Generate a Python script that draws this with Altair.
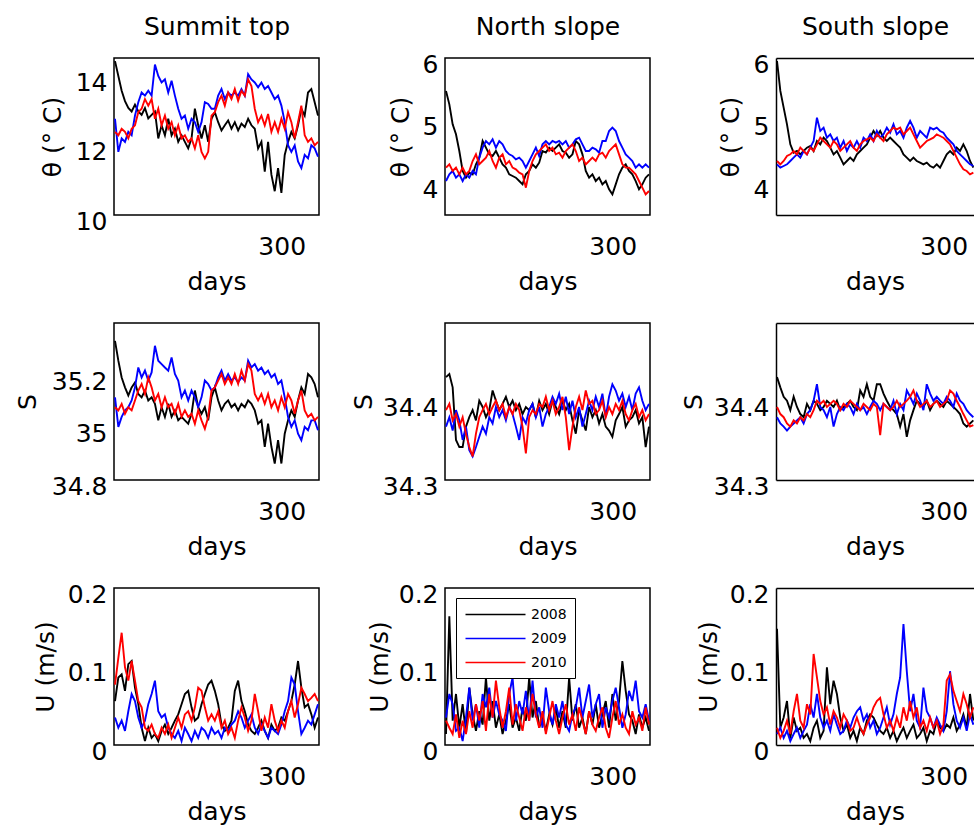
import altair as alt
import numpy as np
import pandas as pd

FONT = "DejaVu Sans"
YEARS = ["2008", "2009", "2010"]
COLORS = ["#000000", "#0000ff", "#ff0000"]
SITES = ["Summit top", "North slope", "South slope"]
X_TICKS = [300]

# ---------------- Summit top ----------------
ST_T_2008 = [14.46, 14.03, 13.6, 13.3, 13.1, 13.0, 13.2, 13.0, 12.9, 13.1, 12.8, 12.9, 13.0, 12.22, 12.60, 12.31, 12.79, 12.31, 12.50, 12.12, 12.31, 12.12, 11.93, 12.22, 13.08, 12.60, 12.22, 12.60, 12.12, 12.79, 12.98, 12.69, 12.45, 12.60, 12.74, 12.50, 12.69, 12.45, 12.65, 12.55, 12.79, 12.60, 12.50, 11.93, 12.12, 11.26, 12.12, 11.17, 10.69, 11.36, 10.64, 11.74, 12.12, 12.41, 12.22, 12.60, 13.08, 12.88, 13.55, 13.65, 13.27, 12.88]
ST_T_2009 = [12.79, 11.83, 12.22, 12.12, 12.41, 12.31, 12.88, 13.27, 13.55, 13.46, 13.60, 13.46, 14.36, 14.03, 13.84, 13.93, 13.55, 13.89, 13.46, 13.08, 12.79, 12.88, 12.50, 12.79, 12.69, 12.41, 12.69, 13.27, 13.22, 13.08, 13.08, 13.46, 13.65, 13.36, 13.55, 13.46, 13.55, 13.46, 13.65, 13.46, 14.08, 13.93, 13.84, 13.70, 13.84, 13.65, 13.74, 13.55, 13.36, 13.46, 13.17, 12.69, 12.02, 11.83, 12.02, 11.55, 11.36, 11.74, 11.64, 12.02, 11.93, 11.69]
ST_T_2010 = [12.41, 12.31, 12.50, 12.41, 12.22, 12.50, 12.60, 12.98, 13.08, 13.36, 13.17, 13.36, 12.79, 13.08, 12.60, 12.88, 12.50, 12.69, 12.31, 12.60, 12.22, 12.31, 12.12, 12.22, 11.93, 12.31, 11.83, 11.64, 11.83, 12.88, 12.98, 13.27, 13.46, 13.17, 13.55, 13.36, 13.65, 13.31, 13.60, 13.46, 13.93, 13.74, 13.08, 12.69, 12.88, 12.60, 12.93, 12.41, 12.69, 12.41, 12.79, 12.50, 12.98, 12.69, 12.22, 12.69, 13.17, 12.31, 12.12, 12.22, 12.02, 12.12]

ST_S_2008 = [35.332, 35.256, 35.192, 35.154, 35.123, 35.154, 35.173, 35.129, 35.116, 35.142, 35.104, 35.116, 35.091, 35.028, 35.078, 35.041, 35.091, 35.041, 35.066, 35.028, 35.041, 35.028, 35.015, 35.053, 35.142, 35.078, 35.053, 35.078, 35.028, 35.116, 35.154, 35.104, 35.066, 35.091, 35.104, 35.078, 35.091, 35.066, 35.091, 35.078, 35.104, 35.091, 35.066, 35.015, 35.028, 34.927, 35.015, 34.927, 34.863, 34.952, 34.863, 34.977, 35.028, 35.066, 35.041, 35.104, 35.154, 35.129, 35.205, 35.192, 35.167, 35.116]
ST_S_2009 = [35.116, 35.003, 35.041, 35.066, 35.078, 35.104, 35.154, 35.230, 35.192, 35.218, 35.180, 35.211, 35.313, 35.256, 35.243, 35.230, 35.218, 35.268, 35.205, 35.180, 35.116, 35.142, 35.104, 35.142, 35.116, 35.078, 35.116, 35.180, 35.167, 35.142, 35.154, 35.192, 35.218, 35.180, 35.205, 35.180, 35.192, 35.173, 35.192, 35.180, 35.256, 35.230, 35.243, 35.218, 35.230, 35.205, 35.218, 35.192, 35.205, 35.167, 35.180, 35.116, 35.041, 35.003, 35.028, 34.977, 34.952, 35.003, 34.990, 35.028, 35.028, 34.990]
ST_S_2010 = [35.078, 35.066, 35.091, 35.053, 35.078, 35.066, 35.104, 35.142, 35.167, 35.129, 35.192, 35.154, 35.104, 35.129, 35.078, 35.116, 35.078, 35.091, 35.053, 35.091, 35.041, 35.066, 35.041, 35.053, 35.015, 35.066, 35.028, 34.996, 35.041, 35.142, 35.154, 35.180, 35.205, 35.167, 35.192, 35.167, 35.205, 35.167, 35.218, 35.180, 35.243, 35.218, 35.129, 35.104, 35.129, 35.091, 35.129, 35.078, 35.104, 35.066, 35.116, 35.078, 35.129, 35.104, 35.053, 35.104, 35.142, 35.066, 35.041, 35.053, 35.028, 35.041]

ST_U_2008 = [0.056, 0.086, 0.090, 0.069, 0.103, 0.107, 0.073, 0.052, 0.022, 0.005, 0.022, 0.009, 0.014, 0.005, 0.018, 0.026, 0.014, 0.022, 0.031, 0.039, 0.052, 0.065, 0.069, 0.048, 0.031, 0.035, 0.052, 0.065, 0.077, 0.082, 0.069, 0.052, 0.026, 0.018, 0.022, 0.031, 0.069, 0.082, 0.056, 0.043, 0.026, 0.018, 0.014, 0.022, 0.031, 0.018, 0.009, 0.026, 0.018, 0.022, 0.035, 0.031, 0.043, 0.056, 0.077, 0.107, 0.073, 0.048, 0.052, 0.039, 0.022, 0.035]
ST_U_2009 = [0.035, 0.022, 0.031, 0.018, 0.043, 0.065, 0.056, 0.035, 0.022, 0.031, 0.052, 0.065, 0.082, 0.043, 0.035, 0.039, 0.022, 0.014, 0.009, 0.018, 0.005, 0.022, 0.014, 0.005, 0.018, 0.009, 0.022, 0.018, 0.009, 0.022, 0.014, 0.018, 0.009, 0.022, 0.018, 0.026, 0.031, 0.043, 0.035, 0.022, 0.031, 0.039, 0.022, 0.014, 0.026, 0.018, 0.009, 0.022, 0.018, 0.014, 0.026, 0.043, 0.056, 0.086, 0.077, 0.043, 0.014, 0.022, 0.031, 0.026, 0.039, 0.052]
ST_U_2010 = [0.077, 0.111, 0.143, 0.099, 0.082, 0.107, 0.082, 0.056, 0.048, 0.022, 0.018, 0.026, 0.014, 0.009, 0.022, 0.014, 0.026, 0.009, 0.022, 0.035, 0.022, 0.039, 0.043, 0.031, 0.048, 0.073, 0.069, 0.048, 0.031, 0.039, 0.031, 0.043, 0.022, 0.031, 0.014, 0.022, 0.009, 0.031, 0.048, 0.035, 0.018, 0.031, 0.065, 0.043, 0.018, 0.035, 0.022, 0.052, 0.031, 0.018, 0.031, 0.022, 0.043, 0.056, 0.035, 0.052, 0.073, 0.065, 0.056, 0.060, 0.065, 0.056]

# ---------------- North slope ----------------
NS_T_2008 = [5.475, 5.262, 4.944, 4.785, 4.519, 4.201, 4.094, 4.174, 4.148, 4.307, 4.413, 4.678, 4.572, 4.466, 4.440, 4.519, 4.413, 4.307, 4.254, 4.148, 4.121, 4.094, 4.041, 3.988, 4.148, 4.201, 4.307, 4.254, 4.333, 4.519, 4.493, 4.572, 4.519, 4.572, 4.625, 4.519, 4.493, 4.413, 4.466, 4.678, 4.625, 4.466, 4.201, 4.094, 4.148, 4.041, 4.094, 3.988, 4.041, 3.909, 3.829, 3.988, 4.148, 4.254, 4.307, 4.201, 4.148, 4.041, 3.909, 3.988, 4.094, 4.148]
NS_T_2009 = [4.041, 4.148, 4.201, 4.094, 4.148, 4.041, 4.148, 4.094, 4.201, 4.148, 4.413, 4.572, 4.678, 4.625, 4.705, 4.572, 4.678, 4.625, 4.519, 4.466, 4.440, 4.386, 4.413, 4.360, 4.254, 4.360, 4.466, 4.572, 4.440, 4.625, 4.678, 4.625, 4.678, 4.652, 4.678, 4.625, 4.678, 4.572, 4.625, 4.705, 4.731, 4.625, 4.519, 4.519, 4.572, 4.546, 4.493, 4.678, 4.678, 4.838, 4.891, 4.838, 4.678, 4.572, 4.466, 4.413, 4.360, 4.254, 4.307, 4.254, 4.307, 4.254]
NS_T_2010 = [4.254, 4.307, 4.201, 4.254, 4.148, 4.254, 4.148, 4.201, 4.360, 4.466, 4.307, 4.360, 4.413, 4.519, 4.360, 4.254, 4.413, 4.466, 4.307, 4.360, 4.254, 4.227, 4.174, 4.148, 3.935, 4.201, 4.360, 4.466, 4.519, 4.572, 4.625, 4.519, 4.572, 4.466, 4.493, 4.413, 4.519, 4.572, 4.625, 4.519, 4.360, 4.413, 4.307, 4.360, 4.413, 4.360, 4.466, 4.493, 4.413, 4.519, 4.572, 4.625, 4.466, 4.307, 4.254, 4.254, 4.201, 4.148, 4.041, 3.935, 3.829, 3.882]

NS_S_2008 = [34.431, 34.435, 34.418, 34.351, 34.342, 34.342, 34.368, 34.380, 34.389, 34.376, 34.401, 34.393, 34.380, 34.389, 34.414, 34.401, 34.389, 34.397, 34.406, 34.393, 34.401, 34.389, 34.397, 34.384, 34.393, 34.389, 34.397, 34.380, 34.401, 34.389, 34.397, 34.384, 34.401, 34.393, 34.384, 34.401, 34.389, 34.397, 34.376, 34.359, 34.389, 34.376, 34.363, 34.393, 34.380, 34.389, 34.372, 34.384, 34.368, 34.363, 34.355, 34.376, 34.384, 34.393, 34.368, 34.376, 34.380, 34.389, 34.372, 34.380, 34.342, 34.368]
NS_S_2009 = [34.368, 34.380, 34.363, 34.389, 34.376, 34.351, 34.368, 34.338, 34.330, 34.342, 34.355, 34.368, 34.359, 34.380, 34.372, 34.393, 34.380, 34.389, 34.376, 34.393, 34.384, 34.368, 34.351, 34.380, 34.372, 34.389, 34.397, 34.380, 34.393, 34.368, 34.384, 34.393, 34.406, 34.397, 34.410, 34.389, 34.406, 34.384, 34.401, 34.380, 34.393, 34.368, 34.384, 34.401, 34.389, 34.406, 34.393, 34.410, 34.380, 34.406, 34.422, 34.414, 34.401, 34.410, 34.393, 34.406, 34.389, 34.410, 34.418, 34.401, 34.389, 34.397]
NS_S_2010 = [34.389, 34.397, 34.376, 34.384, 34.368, 34.380, 34.359, 34.342, 34.330, 34.359, 34.380, 34.389, 34.397, 34.384, 34.393, 34.401, 34.389, 34.397, 34.380, 34.393, 34.384, 34.397, 34.389, 34.368, 34.334, 34.380, 34.389, 34.384, 34.397, 34.393, 34.406, 34.389, 34.401, 34.384, 34.393, 34.406, 34.380, 34.338, 34.368, 34.393, 34.406, 34.389, 34.414, 34.397, 34.401, 34.384, 34.389, 34.401, 34.380, 34.393, 34.384, 34.397, 34.389, 34.401, 34.384, 34.376, 34.389, 34.397, 34.380, 34.389, 34.376, 34.384]

NS_U_2008 = [0.014, 0.164, 0.031, 0.065, 0.022, 0.052, 0.014, 0.073, 0.039, 0.018, 0.043, 0.026, 0.086, 0.031, 0.056, 0.022, 0.039, 0.014, 0.031, 0.052, 0.022, 0.035, 0.018, 0.048, 0.031, 0.086, 0.035, 0.056, 0.022, 0.035, 0.018, 0.039, 0.026, 0.048, 0.022, 0.043, 0.022, 0.086, 0.031, 0.052, 0.022, 0.035, 0.014, 0.043, 0.026, 0.052, 0.022, 0.039, 0.056, 0.022, 0.065, 0.031, 0.056, 0.107, 0.069, 0.039, 0.031, 0.014, 0.039, 0.022, 0.035, 0.018]
NS_U_2009 = [0.035, 0.065, 0.052, 0.018, 0.022, 0.005, 0.035, 0.073, 0.031, 0.052, 0.022, 0.065, 0.048, 0.073, 0.035, 0.056, 0.039, 0.031, 0.018, 0.065, 0.086, 0.031, 0.056, 0.039, 0.069, 0.031, 0.082, 0.035, 0.048, 0.022, 0.073, 0.043, 0.026, 0.052, 0.035, 0.056, 0.026, 0.018, 0.039, 0.048, 0.073, 0.035, 0.056, 0.077, 0.035, 0.052, 0.065, 0.022, 0.048, 0.035, 0.056, 0.073, 0.048, 0.022, 0.039, 0.069, 0.056, 0.082, 0.043, 0.035, 0.052, 0.031]
NS_U_2010 = [0.031, 0.022, 0.014, 0.039, 0.009, 0.031, 0.014, 0.043, 0.022, 0.052, 0.031, 0.056, 0.018, 0.065, 0.035, 0.082, 0.048, 0.022, 0.043, 0.073, 0.026, 0.052, 0.035, 0.018, 0.048, 0.031, 0.065, 0.039, 0.022, 0.043, 0.014, 0.035, 0.056, 0.031, 0.014, 0.035, 0.052, 0.026, 0.039, 0.018, 0.048, 0.031, 0.014, 0.043, 0.026, 0.018, 0.035, 0.048, 0.022, 0.009, 0.035, 0.056, 0.026, 0.039, 0.022, 0.014, 0.043, 0.026, 0.035, 0.018, 0.048, 0.026]

# ---------------- South slope ----------------
SS_T_2008 = [5.952, 5.475, 5.209, 4.944, 4.625, 4.493, 4.519, 4.466, 4.519, 4.572, 4.599, 4.519, 4.678, 4.625, 4.731, 4.678, 4.572, 4.466, 4.519, 4.413, 4.307, 4.360, 4.413, 4.360, 4.466, 4.519, 4.572, 4.625, 4.731, 4.838, 4.758, 4.838, 4.731, 4.678, 4.731, 4.678, 4.625, 4.572, 4.466, 4.413, 4.360, 4.413, 4.360, 4.333, 4.307, 4.333, 4.280, 4.254, 4.307, 4.254, 4.360, 4.466, 4.519, 4.466, 4.572, 4.519, 4.625, 4.519, 4.360, 4.254]
SS_T_2009 = [4.307, 4.254, 4.280, 4.307, 4.360, 4.413, 4.466, 4.413, 4.519, 4.466, 4.572, 4.678, 5.050, 4.838, 4.891, 4.731, 4.785, 4.678, 4.731, 4.572, 4.678, 4.519, 4.625, 4.572, 4.678, 4.572, 4.731, 4.678, 4.785, 4.678, 4.838, 4.731, 4.785, 4.891, 4.811, 4.944, 4.785, 4.838, 4.731, 4.891, 4.997, 4.891, 4.731, 4.838, 4.785, 4.731, 4.891, 4.864, 4.891, 4.838, 4.811, 4.731, 4.678, 4.625, 4.519, 4.466, 4.413, 4.360, 4.307, 4.280]
SS_T_2010 = [4.360, 4.307, 4.360, 4.440, 4.466, 4.519, 4.466, 4.572, 4.519, 4.466, 4.572, 4.519, 4.625, 4.731, 4.678, 4.625, 4.572, 4.678, 4.625, 4.519, 4.572, 4.625, 4.678, 4.572, 4.519, 4.625, 4.678, 4.705, 4.731, 4.678, 4.785, 4.731, 4.678, 4.785, 4.838, 4.891, 4.864, 4.891, 4.785, 4.838, 4.891, 4.785, 4.678, 4.572, 4.625, 4.678, 4.705, 4.731, 4.785, 4.758, 4.731, 4.678, 4.625, 4.519, 4.413, 4.307, 4.227, 4.201, 4.148, 4.174]

SS_S_2008 = [34.431, 34.418, 34.406, 34.401, 34.389, 34.406, 34.393, 34.384, 34.380, 34.397, 34.389, 34.401, 34.397, 34.389, 34.393, 34.401, 34.397, 34.393, 34.401, 34.389, 34.393, 34.397, 34.401, 34.393, 34.389, 34.414, 34.406, 34.422, 34.406, 34.401, 34.422, 34.422, 34.410, 34.401, 34.393, 34.389, 34.384, 34.368, 34.384, 34.355, 34.376, 34.389, 34.401, 34.397, 34.393, 34.401, 34.389, 34.397, 34.401, 34.397, 34.393, 34.401, 34.397, 34.393, 34.389, 34.384, 34.372, 34.368, 34.372, 34.376]
SS_S_2009 = [34.380, 34.372, 34.368, 34.363, 34.368, 34.372, 34.376, 34.380, 34.372, 34.384, 34.389, 34.401, 34.422, 34.393, 34.389, 34.380, 34.393, 34.368, 34.384, 34.393, 34.389, 34.397, 34.393, 34.384, 34.397, 34.389, 34.393, 34.384, 34.393, 34.401, 34.397, 34.389, 34.397, 34.393, 34.389, 34.401, 34.384, 34.397, 34.389, 34.414, 34.406, 34.397, 34.410, 34.401, 34.389, 34.422, 34.410, 34.401, 34.406, 34.401, 34.397, 34.406, 34.401, 34.393, 34.410, 34.401, 34.397, 34.389, 34.384, 34.380]
SS_S_2010 = [34.393, 34.384, 34.380, 34.372, 34.368, 34.376, 34.372, 34.380, 34.376, 34.384, 34.380, 34.389, 34.401, 34.397, 34.401, 34.393, 34.397, 34.401, 34.397, 34.389, 34.397, 34.393, 34.401, 34.397, 34.393, 34.389, 34.397, 34.393, 34.389, 34.397, 34.393, 34.357, 34.397, 34.393, 34.389, 34.393, 34.401, 34.393, 34.397, 34.401, 34.406, 34.414, 34.401, 34.393, 34.397, 34.401, 34.393, 34.397, 34.401, 34.393, 34.397, 34.401, 34.414, 34.410, 34.401, 34.393, 34.384, 34.376, 34.368, 34.370]

SS_U_2008 = [0.148, 0.022, 0.035, 0.056, 0.009, 0.035, 0.018, 0.022, 0.009, 0.014, 0.005, 0.022, 0.031, 0.009, 0.018, 0.099, 0.052, 0.082, 0.065, 0.035, 0.018, 0.026, 0.009, 0.018, 0.005, 0.022, 0.014, 0.031, 0.039, 0.035, 0.026, 0.018, 0.014, 0.022, 0.009, 0.018, 0.005, 0.014, 0.022, 0.009, 0.018, 0.026, 0.009, 0.014, 0.022, 0.005, 0.018, 0.014, 0.031, 0.022, 0.018, 0.026, 0.022, 0.035, 0.018, 0.026, 0.039, 0.022, 0.065, 0.031]
SS_U_2009 = [0.014, 0.022, 0.009, 0.018, 0.005, 0.014, 0.022, 0.009, 0.018, 0.026, 0.052, 0.035, 0.065, 0.035, 0.022, 0.031, 0.018, 0.039, 0.026, 0.014, 0.018, 0.031, 0.022, 0.035, 0.043, 0.048, 0.031, 0.039, 0.022, 0.031, 0.014, 0.022, 0.035, 0.048, 0.026, 0.039, 0.065, 0.086, 0.154, 0.094, 0.043, 0.065, 0.031, 0.022, 0.073, 0.043, 0.035, 0.022, 0.035, 0.026, 0.018, 0.043, 0.094, 0.052, 0.031, 0.022, 0.035, 0.018, 0.039, 0.026]
SS_U_2010 = [0.022, 0.009, 0.018, 0.031, 0.014, 0.043, 0.065, 0.031, 0.022, 0.052, 0.039, 0.116, 0.086, 0.056, 0.039, 0.048, 0.026, 0.043, 0.035, 0.022, 0.039, 0.031, 0.018, 0.022, 0.035, 0.022, 0.014, 0.026, 0.035, 0.048, 0.056, 0.060, 0.039, 0.022, 0.031, 0.018, 0.035, 0.022, 0.048, 0.031, 0.056, 0.035, 0.048, 0.022, 0.031, 0.018, 0.035, 0.022, 0.031, 0.014, 0.026, 0.082, 0.090, 0.069, 0.056, 0.043, 0.065, 0.052, 0.035, 0.048]

DAY_SPAN = [(210.54, 319.46), (210.54, 319.46), (210.54, 315.9)]
X_DOMAINS = [[210, 320], [210, 320], [210, 316.25]]
WIDTHS = [205, 205, 198]
HEIGHT = 157

Y_DOMAINS = {
    "T": [[10, 14.55], [3.5, 6], [3.5, 6]],
    "S": [[34.8, 35.4], [34.3, 34.5], [34.3, 34.5]],
    "U": [[0, 0.2], [0, 0.2], [0, 0.2]],
}
Y_TICKS = {
    "T": [[10, 12, 14], [4, 5, 6], [4, 5, 6]],
    "S": [[34.8, 35, 35.2], [34.3, 34.4], [34.3, 34.4]],
    "U": [[0, 0.1, 0.2], [0, 0.1, 0.2], [0, 0.1, 0.2]],
}
Y_TITLES = {"T": "θ (° C)", "S": "S", "U": "U (m/s)"}
Y_TITLE_X = {"T": [-62, -45, -46], "S": [-87, -82, -83], "U": [-69, -66, -68]}

DATA = {
    "T": [[ST_T_2008, ST_T_2009, ST_T_2010], [NS_T_2008, NS_T_2009, NS_T_2010], [SS_T_2008, SS_T_2009, SS_T_2010]],
    "S": [[ST_S_2008, ST_S_2009, ST_S_2010], [NS_S_2008, NS_S_2009, NS_S_2010], [SS_S_2008, SS_S_2009, SS_S_2010]],
    "U": [[ST_U_2008, ST_U_2009, ST_U_2010], [NS_U_2008, NS_U_2009, NS_U_2010], [SS_U_2008, SS_U_2009, SS_U_2010]],
}


def make_df(series, span):
    frames = []
    for yr, vals in zip(YEARS, series):
        days = np.linspace(span[0], span[1], len(vals))
        frames.append(pd.DataFrame({"day": days, "value": vals, "year": yr}))
    return pd.concat(frames, ignore_index=True)


def panel(var, col, row_idx):
    df = make_df(DATA[var][col], DAY_SPAN[col])
    open_right = col == 2
    width = WIDTHS[col]
    xscale = alt.Scale(domain=X_DOMAINS[col], nice=False, zero=False)
    yscale = alt.Scale(domain=Y_DOMAINS[var][col], nice=False, zero=False)
    xaxis = alt.Axis(values=X_TICKS, title="days", ticks=False, grid=False,
                     domain=open_right, domainColor="black", domainWidth=1.5,
                     labelFont=FONT, labelFontSize=25, labelPadding=19, labelColor="black",
                     titleFont=FONT, titleFontSize=25, titleFontWeight="normal",
                     titleColor="black", titleY=74, titleX=width / 2, titleAlign="center",
                     titleBaseline="alphabetic")
    yaxis = alt.Axis(values=Y_TICKS[var][col], format="~g", title=Y_TITLES[var],
                     ticks=False, grid=False, domain=open_right, domainColor="black",
                     domainWidth=1.5, labelFont=FONT, labelFontSize=25, labelPadding=7,
                     labelOffset=6, labelColor="black", titleFont=FONT, titleFontSize=25,
                     titleFontWeight="normal", titleColor="black",
                     titleX=Y_TITLE_X[var][col], titleY=HEIGHT / 2, titleAngle=270,
                     titleAlign="center", titleBaseline="middle")
    if var == "U" and col == 1:
        legend = alt.Legend(orient="none", legendX=11, legendY=10, title=None,
                            symbolType="M-4,0L4,0", symbolSize=225, symbolStrokeWidth=1.5,
                            symbolOffset=23, labelOffset=27, labelFontSize=14,
                            labelFont=FONT, labelColor="black", padding=8, rowPadding=8,
                            strokeColor="black", fillColor="white")
    else:
        legend = None
    color = alt.Color("year:N", scale=alt.Scale(domain=YEARS, range=COLORS), legend=legend)
    lines = alt.Chart(df).mark_line(strokeWidth=1.9, clip=True).encode(
        x=alt.X("day:Q", scale=xscale, axis=xaxis),
        y=alt.Y("value:Q", scale=yscale, axis=yaxis),
        color=color,
    )
    props = dict(width=width, height=HEIGHT)
    need_top = open_right or row_idx == 0
    if not need_top:
        return lines.properties(**props)
    # top axis: frame edge for the open (cut-off) column and the site name for the first row
    top_axis_kw = dict(orient="top", labels=False, ticks=False, grid=False,
                       domain=open_right, domainColor="black", domainWidth=1.5)
    if row_idx == 0:
        top_axis_kw.update(title=SITES[col], titleFont=FONT, titleFontSize=25,
                           titleFontWeight="normal", titleColor="black", titleY=-24,
                           titleX=width / 2, titleAlign="center",
                           titleBaseline="alphabetic")
    else:
        top_axis_kw.update(title=None)
    top = alt.Chart(df).mark_line(opacity=0).encode(
        x=alt.X("day:Q", scale=xscale, axis=alt.Axis(**top_axis_kw)),
        y=alt.Y("value:Q", scale=yscale, axis=yaxis),
    )
    layered = alt.layer(lines, top).resolve_axis(x="independent")
    if open_right:
        return layered.properties(view=alt.ViewBackground(strokeOpacity=0), **props)
    return layered.properties(**props)


panels = [panel(var, c, r) for r, var in enumerate(["T", "S", "U"]) for c in range(3)]

chart = alt.concat(
    *panels, columns=3, spacing={"row": 108, "column": 126}, bounds="flush"
).resolve_scale(
    color="independent"
).properties(
    padding={"left": 14, "top": 13, "right": 0, "bottom": 0},
    background="white",
).configure_view(
    stroke="black", strokeWidth=1.5
)

chart.save("out.html", embed_options={"renderer": "svg", "actions": False})
